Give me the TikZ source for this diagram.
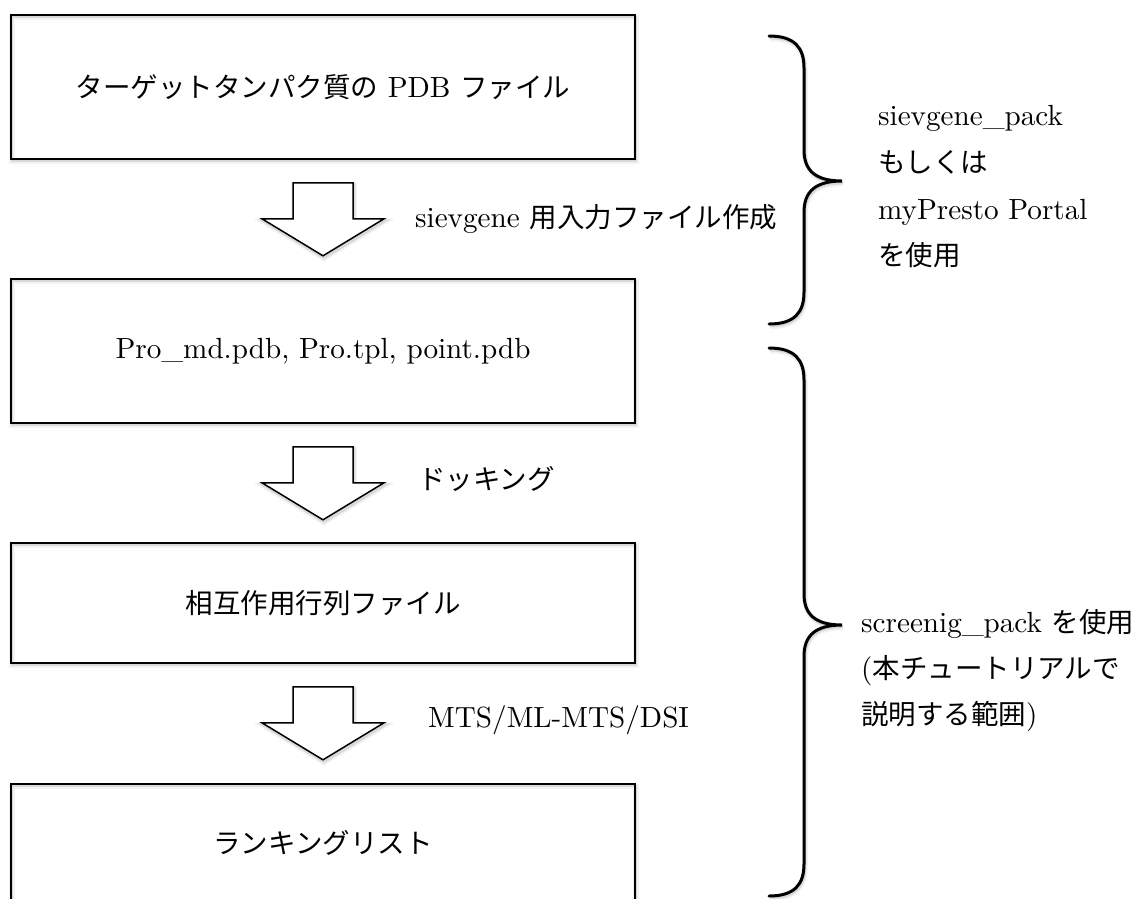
\documentclass[tikz,border=0pt]{standalone}
\usepackage{fontspec}
\setmainfont{lmroman10-regular.otf}[Scale=1.06]
\newfontfamily\cjk{Noto Sans CJK JP}
\usetikzlibrary{calc}
\newcommand\myfs{\fontsize{27.5}{33}\selectfont}
\tikzset{
  softshadow/.style={
    preaction={draw=black, opacity=0.05, line width=5.5pt, transform canvas={xshift=1pt,yshift=-2.5pt}},
    preaction={draw=black, opacity=0.10, line width=2.8pt, transform canvas={xshift=1pt,yshift=-2pt}}},
  flowbox/.style={draw=black, line width=1.6pt, minimum width=624pt, inner sep=0pt,
    font=\myfs, align=center, softshadow},
  arrowline/.style={draw=black, line width=1.5pt, line join=miter, fill=white, softshadow},
  bracestroke/.style={draw=black, line width=3pt, line cap=round, softshadow},
  sidetext/.style={anchor=west, font=\myfs, inner sep=0pt, text height=20pt, text depth=6pt},
  blockarrow/.pic={
    \path[arrowline] (-30,0) -- (30,0) -- (30,36) -- (61,36) -- (0,73) -- (-61,36) -- (-30,36) -- cycle;
  }
}
\begin{document}
\begin{tikzpicture}[x=1pt,y=-1pt]
\useasboundingbox (0,0) rectangle (1134,898);
\fill[white] (0,0) rectangle (1134,898);
\clip (0,0) rectangle (1134,898);

% boxes
\node[flowbox, minimum height=144pt] (b1) at (323,87)
  {{\cjk ターゲットタンパク質の} PDB {\cjk ファイル}};
\node[flowbox, minimum height=144pt] (b2) at (323,351)
  {Pro\_md.pdb, Pro.tpl, point.pdb};
\node[flowbox, minimum height=120pt] (b3) at (323,603)
  {{\cjk 相互作用行列ファイル}};
\node[flowbox, minimum height=118pt] (b4) at (323,843)
  {{\cjk ランキングリスト}};

% block arrows between boxes
\pic at ($(b1.south)+(0,23)$) {blockarrow};
\pic at ($(b2.south)+(0,23)$) {blockarrow};
\pic at ($(b3.south)+(0,23)$) {blockarrow};

% arrow labels
\node[sidetext] (l1) at (415,220) {sievgene {\cjk 用入力ファイル作成}};
\node[sidetext] (l2) at (418,482) {{\cjk ドッキング}};
\node[sidetext] (l3) at (428,720) {MTS/ML-MTS/DSI};

% braces
\coordinate (br1top) at (769,36);
\coordinate (br1tip) at (842,181);
\coordinate (br1bot) at (769,324);
\path[bracestroke] (br1top) .. controls (795,36) and (804,48) .. (804,68) -- (804,150)
  .. controls (804,170) and (815,181) .. (br1tip)
  .. controls (815,181) and (804,192) .. (804,212) -- (804,292)
  .. controls (804,312) and (795,324) .. (br1bot);

\coordinate (br2top) at (769,348);
\coordinate (br2tip) at (842,625);
\coordinate (br2bot) at (769,896);
\path[bracestroke] (br2top) .. controls (795,348) and (804,360) .. (804,380) -- (804,594)
  .. controls (804,614) and (815,625) .. (br2tip)
  .. controls (815,625) and (804,636) .. (804,656) -- (804,864)
  .. controls (804,884) and (795,896) .. (br2bot);

% right-hand texts
\node[sidetext] (r1) at (878,118) {sievgene\_pack};
\node[sidetext] (r2) at (878,165) {{\cjk もしくは}};
\node[sidetext] (r3) at (878,212) {myPresto Portal};
\node[sidetext] (r4) at (878,258) {{\cjk を使用}};

\node[sidetext] (s1) at (861,625) {screenig\_pack {\cjk を使用}};
\node[sidetext] (s2) at (861,671) {({\cjk 本チュートリアルで}};
\node[sidetext] (s3) at (861,717) {{\cjk 説明する範囲})};
\end{tikzpicture}
\end{document}
